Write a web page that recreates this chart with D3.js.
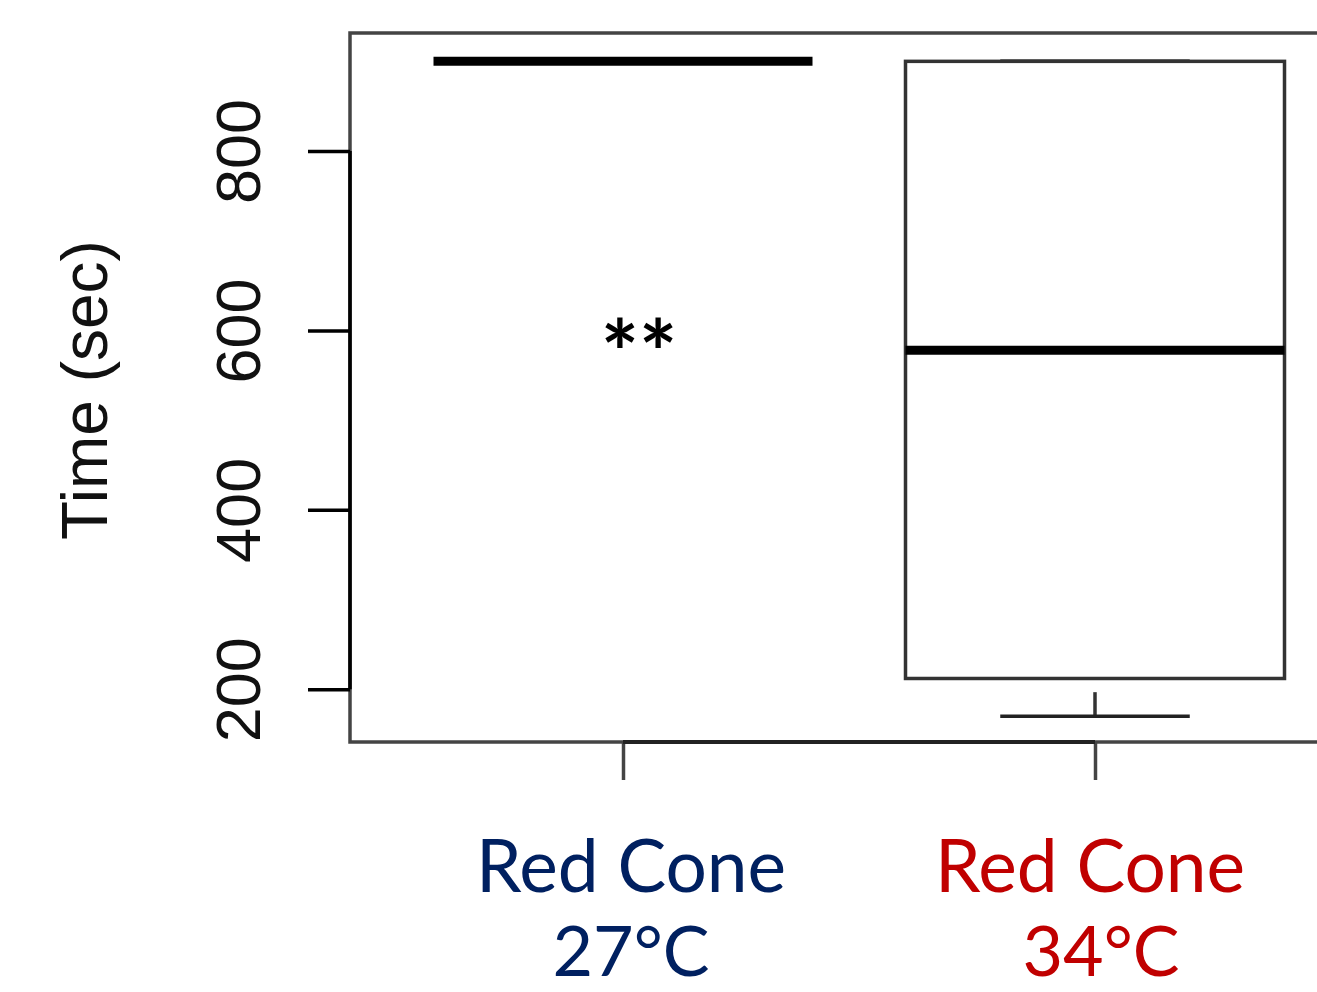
<!DOCTYPE html>
<head>
  <meta charset="utf-8">
  <title>Time (sec) - Red Cone 27°C vs 34°C</title>
<style>
html, body{
  width: 100%;
  height: 100%;
  margin: 0;
  padding: 0;
  background: #fff;
}
svg { display: block; }
.tick text { font-family: 'Liberation Sans', Arial, sans-serif; font-size: 63px; fill: #111; }
.ylab { font-family: 'Liberation Sans', Arial, sans-serif; font-size: 64px; fill: #111; }
.cat  { font-family: Lato, 'Open Sans', sans-serif; font-size: 73px; }
.cat .l2 { font-size: 70px; }
.stars { font-family: Lato, 'Open Sans', sans-serif; font-size: 90px; font-weight: bold; fill: #000; }
</style>
</head>
<body>
<svg width="1317" height="992"></svg>
<script src="https://d3js.org/d3.v7.min.js"></script>
<script>
var svg = d3.select("svg");

// data
var groups     = ["27", "34"];
var labelLine1 = ["Red Cone", "Red Cone"];
var labelLine2 = ["27°C", "34°C"];
var labelColor = ["#002060", "#C00000"];
var whiskerLo  = [900, 170];
var q1         = [900, 212];
var median     = [900, 578];
var q3         = [900, 900];
var whiskerHi  = [900, 900];
var yTicks     = [200, 400, 600, 800];
var signif     = "**";

var boxes = groups.map(function(g, i) {
  return {g: g, lo: whiskerLo[i], q1: q1[i], med: median[i], q3: q3[i], hi: whiskerHi[i]};
});

var plot = {left: 350, top: 33, bottom: 742, right: 1340};

var y = d3.scaleLinear()
    .domain([141.2, 931.6])
    .range([plot.bottom, plot.top]);

var x = d3.scalePoint()
    .domain(groups)
    .range([623, 1095]);

var boxW = 379;
// nudges of the two label lines (text boxes were placed by hand)
var labelDx = [[8, 8], [-5, 6]];

// frame
svg.append("rect")
    .attr("x", plot.left).attr("y", plot.top)
    .attr("width", plot.right - plot.left).attr("height", plot.bottom - plot.top)
    .attr("fill", "none")
    .attr("stroke", "#444")
    .attr("stroke-width", 3.5);

// boxes
var b = svg.selectAll(".box").data(boxes).enter().append("g").attr("class", "box");

// lower whisker (dashed, drawn from whisker end toward the box)
b.filter(function(d) { return d.lo < d.q1; }).append("line")
    .attr("x1", function(d) { return x(d.g); }).attr("x2", function(d) { return x(d.g); })
    .attr("y1", function(d) { return y(d.lo); }).attr("y2", function(d) { return y(d.q1); })
    .attr("stroke", "#333").attr("stroke-width", 3.5)
    .attr("stroke-dasharray", "24,16");

// caps
b.filter(function(d) { return d.lo < d.q1; }).append("line")
    .attr("x1", function(d) { return x(d.g) - boxW / 4; }).attr("x2", function(d) { return x(d.g) + boxW / 4; })
    .attr("y1", function(d) { return y(d.lo); }).attr("y2", function(d) { return y(d.lo); })
    .attr("stroke", "#222").attr("stroke-width", 3.5);

b.filter(function(d) { return d.q1 < d.q3; }).append("line")
    .attr("x1", function(d) { return x(d.g) - boxW / 4; }).attr("x2", function(d) { return x(d.g) + boxW / 4; })
    .attr("y1", function(d) { return y(d.hi); }).attr("y2", function(d) { return y(d.hi); })
    .attr("stroke", "#000").attr("stroke-width", 3.5);

b.filter(function(d) { return d.q1 < d.q3; }).append("rect")
    .attr("x", function(d) { return x(d.g) - boxW / 2; })
    .attr("width", boxW)
    .attr("y", function(d) { return y(d.q3); })
    .attr("height", function(d) { return y(d.q1) - y(d.q3); })
    .attr("fill", "none")
    .attr("stroke", "#333").attr("stroke-width", 3.5);

// medians
b.append("line")
    .attr("x1", function(d) { return x(d.g) - boxW / 2; }).attr("x2", function(d) { return x(d.g) + boxW / 2; })
    .attr("y1", function(d) { return y(d.med); }).attr("y2", function(d) { return y(d.med); })
    .attr("stroke", "#000").attr("stroke-width", 9);

// y axis
var yAxis = svg.append("g")
    .attr("transform", "translate(" + plot.left + ",0)")
    .call(d3.axisLeft(y).tickValues(yTicks).tickSize(42).tickPadding(0));
yAxis.select(".domain").remove();
yAxis.selectAll(".tick line").attr("stroke", "#000").attr("stroke-width", 3.5);
yAxis.selectAll(".tick text")
    .attr("x", 0).attr("dy", 0)
    .attr("text-anchor", "middle")
    .attr("transform", "translate(-90,0) rotate(-90)");
yAxis.append("line")
    .attr("x1", 0).attr("x2", 0)
    .attr("y1", y(yTicks[0])).attr("y2", y(yTicks[yTicks.length - 1]))
    .attr("stroke", "#000").attr("stroke-width", 3.5);

// x axis
var xAxis = svg.append("g")
    .attr("transform", "translate(0," + plot.bottom + ")")
    .call(d3.axisBottom(x).tickSize(38).tickFormat(""));
xAxis.select(".domain").remove();
xAxis.selectAll(".tick line").attr("stroke", "#444").attr("stroke-width", 3.5);
xAxis.append("line")
    .attr("x1", x(groups[0])).attr("x2", x(groups[groups.length - 1]))
    .attr("stroke", "#222").attr("stroke-width", 4);

// y label
svg.append("text")
    .attr("class", "ylab")
    .attr("text-anchor", "middle")
    .attr("transform", "translate(107,390) rotate(-90)")
    .text("Time (sec)");

// category labels
var cat = svg.selectAll(".cat").data(groups).enter().append("text")
    .attr("class", "cat")
    .attr("text-anchor", "middle")
    .attr("fill", function(d, i) { return labelColor[i]; });
cat.append("tspan")
    .attr("x", function(d, i) { return x(d) + labelDx[i][0]; }).attr("y", 892)
    .text(function(d, i) { return labelLine1[i]; });
cat.append("tspan")
    .attr("class", "l2")
    .attr("x", function(d, i) { return x(d) + labelDx[i][1]; }).attr("y", 976)
    .text(function(d, i) { return labelLine2[i]; });

// significance mark
svg.append("text")
    .attr("class", "stars")
    .attr("text-anchor", "middle")
    .attr("x", x(groups[0]) + 16).attr("y", 386)
    .text(signif);
</script>
</body>
